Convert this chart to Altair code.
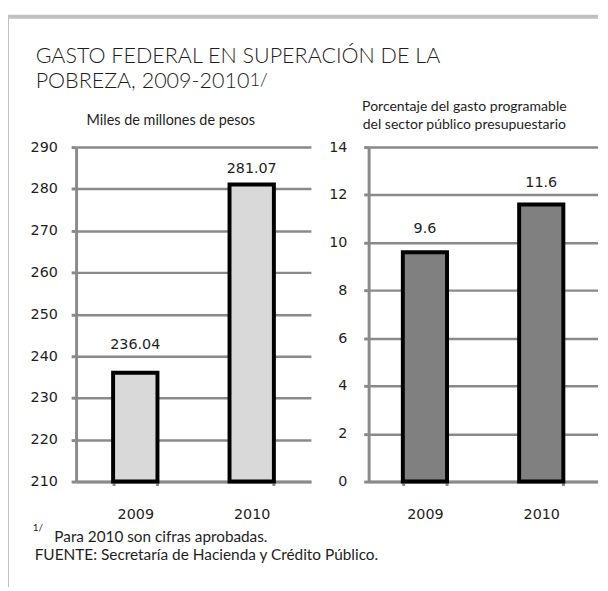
import altair as alt
import pandas as pd

# ---- data ----
years = ["2009", "2010"]
pesos = [236.04, 281.07]
pct = [9.6, 11.6]
pesos_ticks = [210, 220, 230, 240, 250, 260, 270, 280, 290]
pct_ticks = [0, 2, 4, 6, 8, 10, 12, 14]
pesos_base = 210

title_line1 = "GASTO FEDERAL  EN SUPERACIÓN DE LA"
title_line2 = "POBREZA, 2009-2010"
title_ref = "1/"
left_sub = "Miles de millones de pesos"
right_sub = ["Porcentaje del gasto programable", "del sector público presupuestario"]
note_mark = "1/"
note_text = "Para 2010 son cifras aprobadas."
source_text = "FUENTE: Secretaría de Hacienda y Crédito Público."

# ---- style ----
GRID = "#8a8a8a"
FRAME = "#c0c0c0"
TXT = "#1e1e1e"
NUM_FONT = "DejaVu Sans"
TXT_FONT = "Lato"
NUM_SIZE = 14.5

df_l = pd.DataFrame({"year": years, "value": pesos})
df_r = pd.DataFrame({"year": years, "value": pct})
one = pd.DataFrame({"k": [0]})


def y_axis(values, pad):
    return alt.Axis(values=values, title=None, grid=True, gridColor=GRID,
                    gridWidth=2.5, domainColor=GRID, domainWidth=3,
                    tickColor=GRID, tickWidth=3, tickSize=5, labelPadding=pad,
                    labelFont=NUM_FONT, labelFontSize=NUM_SIZE, labelColor=TXT)


def x_axis():
    return alt.Axis(title=None, labelAngle=0, tickBand="extent", grid=False,
                    domainColor=GRID, domainWidth=3, tickColor=GRID,
                    tickWidth=3, tickSize=4, labelPadding=22,
                    labelFont=NUM_FONT, labelFontSize=NUM_SIZE, labelColor=TXT)


def text_at(txt, x, y, size, font=TXT_FONT, align="left", line_height=None,
            weight=None):
    kw = dict(text=txt, align=align, baseline="middle", font=font,
              fontSize=size, color=TXT)
    if line_height:
        kw["lineHeight"] = line_height
    if weight:
        kw["fontWeight"] = weight
    return alt.Chart(one).mark_text(**kw).encode(x=alt.value(x), y=alt.value(y))


def panel(df, fill, domain, base_val, ticks, pad, fmt, dys, p_i, p_o):
    xenc = alt.X("year:N", axis=x_axis(),
                 scale=alt.Scale(paddingInner=p_i, paddingOuter=p_o))
    yenc = alt.Y("value:Q", axis=y_axis(ticks, pad),
                 scale=alt.Scale(domain=domain, zero=False, nice=False))
    base = alt.Chart(df).encode(x=xenc, y=yenc)
    bars = base.mark_bar(fill=fill, stroke="black", strokeWidth=4,
                         strokeJoin="miter").encode(y2=alt.datum(base_val))
    labels = [
        base.transform_filter(alt.datum.year == yr).mark_text(
            dy=dy, font=NUM_FONT, fontSize=NUM_SIZE, color=TXT
        ).encode(text=alt.Text("value:Q", format=fmt))
        for yr, dy in zip(years, dys)
    ]
    return bars, labels


bars_l, labels_l = panel(df_l, "#d9d9d9", [210, 290], pesos_base, pesos_ticks,
                         14, ".2f", [-28, -16], 0.619, 0.318)
bars_r, labels_r = panel(df_r, "#808080", [0, 14], 0, pct_ticks, 17, ".1f",
                         [-23, -22], 0.62, 0.294)

frame_v = alt.Chart(one).mark_rule(color=FRAME, strokeWidth=4).encode(
    x=alt.value(-70), y=alt.value(-134), y2=alt.value(446))
frame_h = alt.Chart(one).mark_rule(color=FRAME, strokeWidth=4).encode(
    x=alt.value(-72), x2=alt.value(529), y=alt.value(-132))

left = alt.layer(
    frame_v, frame_h, bars_l, *labels_l,
    text_at(title_line1, -41, -92, 21.8, weight=300),
    text_at(title_line2, -41, -67, 21.8, weight=300),
    text_at(title_ref, 176, -67, 18, weight=300),
    text_at(left_sub, 96, -26, 14.6, align="center"),
    text_at(note_mark, -44, 386, 10),
    text_at(note_text, -22, 395, 15.5),
    text_at(source_text, -42, 414, 15.6),
).properties(width=238, height=339)

right = alt.layer(
    bars_r, *labels_r,
    text_at(right_sub, 97, -41, 14.2, align="center", line_height=19),
).properties(width=232, height=339)

chart = alt.hconcat(left, right, spacing=58.5, bounds="flush").resolve_scale(
    x="independent", y="independent"
).properties(
    padding={"left": -5, "top": 1, "right": 0, "bottom": 0},
    background="white",
).configure_view(stroke=None)

chart.save("out.html", embed_options={"renderer": "svg", "actions": False})
